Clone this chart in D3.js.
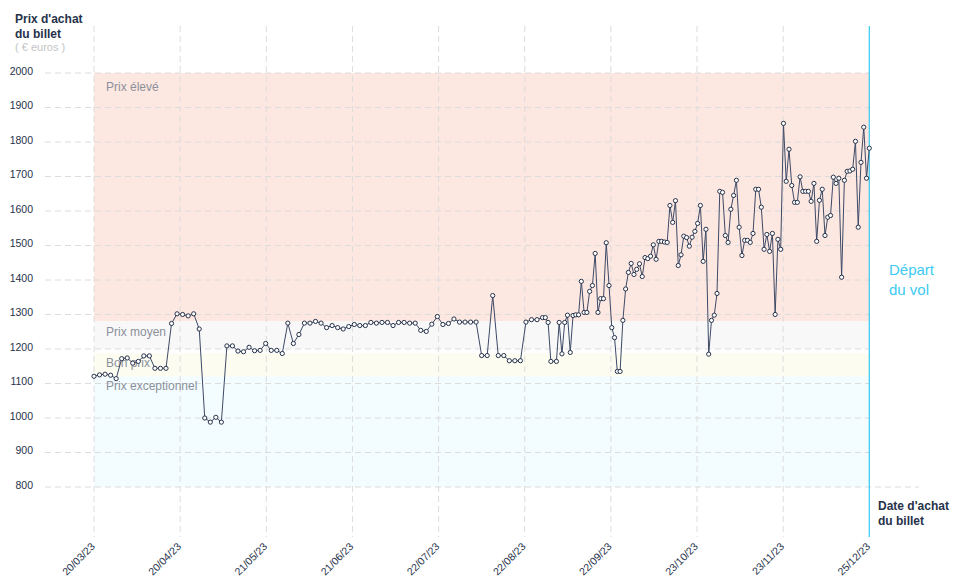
<!DOCTYPE html>
<html>
<head>
<meta charset="utf-8">
<script src="https://cdn.jsdelivr.net/npm/d3@7"></script>
<style>
  html, body { margin: 0; padding: 0; background: #fff; }
  svg { display: block; font-family: "Liberation Sans", Arial, sans-serif; }
</style>
</head>
<body>
<svg id="chart" width="958" height="585"></svg>
<script>
// ---- Data ----
const startDate = "2023-03-20";
const endDate = "2023-12-25"; // Départ du vol
const xTickLabels = ["20/03/23","20/04/23","21/05/23","21/06/23","22/07/23","22/08/23","22/09/23","23/10/23","23/11/23","25/12/23"];
const yTicks = [800,900,1000,1100,1200,1300,1400,1500,1600,1700,1800,1900,2000];

const bandNames = ["Prix élevé","Prix moyen","Bon prix","Prix exceptionnel"];
const bandLow  = [1280, 1200, 1120, 800];
const bandHigh = [2000, 1280, 1187, 1120];
const bandColors = ["#fde7e1","#f8f8f9","#fcfcf1","#f3fcfe"];
const bandLabelValue = [1948, 1239, 1149, 1081];

const purchaseDates = [
 "2023-03-20","2023-03-22","2023-03-24","2023-03-26","2023-03-28","2023-03-30",
 "2023-04-01","2023-04-03","2023-04-05","2023-04-07","2023-04-09","2023-04-11","2023-04-13","2023-04-15",
 "2023-04-17","2023-04-19","2023-04-21","2023-04-23","2023-04-25","2023-04-27","2023-04-29",
 "2023-05-01","2023-05-03","2023-05-05","2023-05-07","2023-05-09","2023-05-11","2023-05-13","2023-05-15",
 "2023-05-17","2023-05-19","2023-05-21","2023-05-23","2023-05-25","2023-05-27","2023-05-29","2023-05-31",
 "2023-06-02","2023-06-04","2023-06-06","2023-06-08","2023-06-10","2023-06-12","2023-06-14","2023-06-16",
 "2023-06-18","2023-06-20","2023-06-22","2023-06-24","2023-06-26","2023-06-28","2023-06-30",
 "2023-07-02","2023-07-04","2023-07-06","2023-07-08","2023-07-10","2023-07-12","2023-07-14","2023-07-16",
 "2023-07-18","2023-07-20","2023-07-22","2023-07-24","2023-07-26","2023-07-28","2023-07-30",
 "2023-08-01","2023-08-03","2023-08-05","2023-08-07","2023-08-09","2023-08-11","2023-08-13","2023-08-15",
 "2023-08-17","2023-08-19","2023-08-21","2023-08-23","2023-08-25","2023-08-27","2023-08-29","2023-08-30",
 "2023-08-31","2023-09-01","2023-09-03","2023-09-04","2023-09-05","2023-09-06","2023-09-07","2023-09-08",
 "2023-09-09","2023-09-10","2023-09-11","2023-09-12","2023-09-13","2023-09-14","2023-09-15","2023-09-16",
 "2023-09-17","2023-09-18","2023-09-19","2023-09-20","2023-09-21","2023-09-22","2023-09-23","2023-09-24",
 "2023-09-25","2023-09-26","2023-09-27","2023-09-28","2023-09-29","2023-09-30",
 "2023-10-01","2023-10-02","2023-10-03","2023-10-04","2023-10-05","2023-10-06","2023-10-07","2023-10-08",
 "2023-10-09","2023-10-10","2023-10-11","2023-10-12","2023-10-13","2023-10-14","2023-10-15","2023-10-16",
 "2023-10-17","2023-10-18","2023-10-19","2023-10-20","2023-10-21","2023-10-22","2023-10-23","2023-10-24",
 "2023-10-25","2023-10-26","2023-10-27","2023-10-28","2023-10-29","2023-10-30","2023-10-31",
 "2023-11-01","2023-11-02","2023-11-03","2023-11-04","2023-11-05","2023-11-06","2023-11-07","2023-11-08",
 "2023-11-09","2023-11-10","2023-11-11","2023-11-12","2023-11-13","2023-11-14","2023-11-15","2023-11-16",
 "2023-11-17","2023-11-18","2023-11-19","2023-11-20","2023-11-21","2023-11-22","2023-11-23","2023-11-24",
 "2023-11-25","2023-11-26","2023-11-27","2023-11-28","2023-11-29","2023-11-30",
 "2023-12-01","2023-12-02","2023-12-03","2023-12-04","2023-12-05","2023-12-06","2023-12-07","2023-12-08",
 "2023-12-09","2023-12-10","2023-12-11","2023-12-12","2023-12-13","2023-12-14","2023-12-15","2023-12-16",
 "2023-12-17","2023-12-18","2023-12-19","2023-12-20","2023-12-21","2023-12-22","2023-12-23","2023-12-24",
 "2023-12-25"
];
const ticketPrices = [
 1121,1125,1127,1124,1114,1172,
 1174,1159,1164,1180,1180,1144,1144,1144,
 1274,1302,1300,1296,1302,1258,1000,
 988,1002,988,1209,1209,1194,1192,1205,
 1195,1196,1216,1196,1196,1187,1275,1216,
 1242,1275,1275,1280,1275,1262,1268,1262,
 1258,1265,1271,1268,1268,1277,1275,
 1277,1277,1268,1277,1277,1275,1275,1254,
 1251,1272,1294,1271,1274,1287,1278,
 1278,1278,1278,1181,1181,1355,1181,1181,
 1166,1166,1166,1278,1285,1285,1291,1291,
 1277,1164,1164,1277,1186,1277,1298,1190,
 1297,1299,1299,1396,1306,1306,1367,1384,
 1477,1306,1346,1346,1508,1384,1262,1233,
 1135,1135,1283,1374,1422,1448,
 1416,1431,1447,1410,1465,1462,1469,1502,
 1460,1512,1512,1510,1509,1616,1567,1630,
 1442,1473,1527,1523,1498,1524,1541,1564,
 1616,1454,1547,1185,1283,1298,1361,
 1657,1654,1529,1509,1605,1645,1689,1553,
 1471,1515,1515,1509,1535,1663,1663,1611,
 1489,1532,1483,1535,1300,1518,1489,1854,
 1686,1779,1674,1625,1625,1699,
 1657,1657,1657,1628,1680,1512,1631,1663,
 1529,1582,1587,1698,1680,1695,1408,1689,
 1715,1716,1721,1802,1553,1741,1843,1695,
 1782
];

// ---- Chart ----
const parse = d3.timeParse("%Y-%m-%d");
const data = purchaseDates.map((d, i) => ({ date: parse(d), price: ticketPrices[i] }));
const t0 = parse(startDate), t1 = parse(endDate);

const svg = d3.select("#chart");
const x = d3.scaleTime().domain([t0, t1]).range([94, 869.3]);
const y = d3.scaleLinear().domain([800, 2000]).range([487, 73]);

const navy = "#26324a";
const gridColor = "#dcdcdc";

// evenly spaced ticks across the domain
const xTickDates = xTickLabels.map((_, i) => new Date(+t0 + i * (t1 - t0) / (xTickLabels.length - 1)));

// bands
svg.append("g").selectAll("rect").data(bandNames).join("rect")
  .attr("x", x(t0)).attr("width", x(t1) - x(t0))
  .attr("y", (d, i) => y(bandHigh[i]))
  .attr("height", (d, i) => y(bandLow[i]) - y(bandHigh[i]))
  .attr("fill", (d, i) => bandColors[i]);

// horizontal grid
svg.append("g").selectAll("line").data(yTicks).join("line")
  .attr("x1", 45).attr("x2", d => d === 800 ? 919 : x(t1))
  .attr("y1", d => y(d)).attr("y2", d => y(d))
  .attr("stroke", gridColor).attr("stroke-width", 1).attr("stroke-dasharray", "6,4");

// vertical grid
svg.append("g").selectAll("line").data(xTickDates.slice(0, -1)).join("line")
  .attr("x1", d => x(d)).attr("x2", d => x(d))
  .attr("y1", 26).attr("y2", 537)
  .attr("stroke", gridColor).attr("stroke-width", 1).attr("stroke-dasharray", "6,4");

// band labels
svg.append("g").selectAll("text").data(bandNames).join("text")
  .attr("x", 106).attr("y", (d, i) => y(bandLabelValue[i]))
  .attr("font-size", 12).attr("fill", "#8b909b")
  .text(d => d);

// y axis labels
const yAxis = d3.axisLeft(y).tickValues(yTicks).tickFormat(d3.format("d")).tickSize(0).tickPadding(0);
const gy = svg.append("g").attr("transform", "translate(33,-2)").call(yAxis);
gy.select(".domain").remove();
gy.selectAll("text").attr("font-size", 10.5).attr("fill", navy)
  .attr("font-family", "'Liberation Sans', Arial, sans-serif");

// x axis labels
const xAxis = d3.axisBottom(x).tickValues(xTickDates).tickFormat((d, i) => xTickLabels[i]).tickSize(0);
const gx = svg.append("g").attr("transform", "translate(0,540)").call(xAxis);
gx.select(".domain").remove();
gx.selectAll("text")
  .attr("font-size", 10.5).attr("fill", navy)
  .attr("font-family", "'Liberation Sans', Arial, sans-serif")
  .attr("text-anchor", "end")
  .attr("dx", 0).attr("dy", 0)
  .attr("transform", "translate(-1,5) rotate(-45)");

// departure line
svg.append("line")
  .attr("x1", x(t1)).attr("x2", x(t1)).attr("y1", 26).attr("y2", 537)
  .attr("stroke", "#33c8f0").attr("stroke-width", 1.2);

// price line
const line = d3.line().x(d => x(d.date)).y(d => y(d.price));
svg.append("path").datum(data)
  .attr("d", line).attr("fill", "none")
  .attr("stroke", "#3d4a66").attr("stroke-width", 1);

svg.append("g").selectAll("circle").data(data).join("circle")
  .attr("cx", d => x(d.date)).attr("cy", d => y(d.price)).attr("r", 2.1)
  .attr("fill", "#fff").attr("stroke", navy).attr("stroke-width", 1);

// titles
const ttl = svg.append("text").attr("x", 15).attr("font-size", 12).attr("font-weight", "bold").attr("fill", navy);
ttl.append("tspan").attr("x", 15).attr("y", 23).text("Prix d'achat");
ttl.append("tspan").attr("x", 15).attr("y", 38).text("du billet");
svg.append("text").attr("x", 15).attr("y", 51).attr("font-size", 11).attr("fill", "#c4c4c4").text("( € euros )");

const xt = svg.append("text").attr("font-size", 12).attr("font-weight", "bold").attr("fill", navy);
xt.append("tspan").attr("x", 878).attr("y", 510).text("Date d'achat");
xt.append("tspan").attr("x", 878).attr("y", 525).text("du billet");

const dep = svg.append("text").attr("font-size", 15).attr("fill", "#3ccaf2");
dep.append("tspan").attr("x", 889).attr("y", 275).text("Départ");
dep.append("tspan").attr("x", 889).attr("y", 295).text("du vol");
</script>
</body>
</html>
